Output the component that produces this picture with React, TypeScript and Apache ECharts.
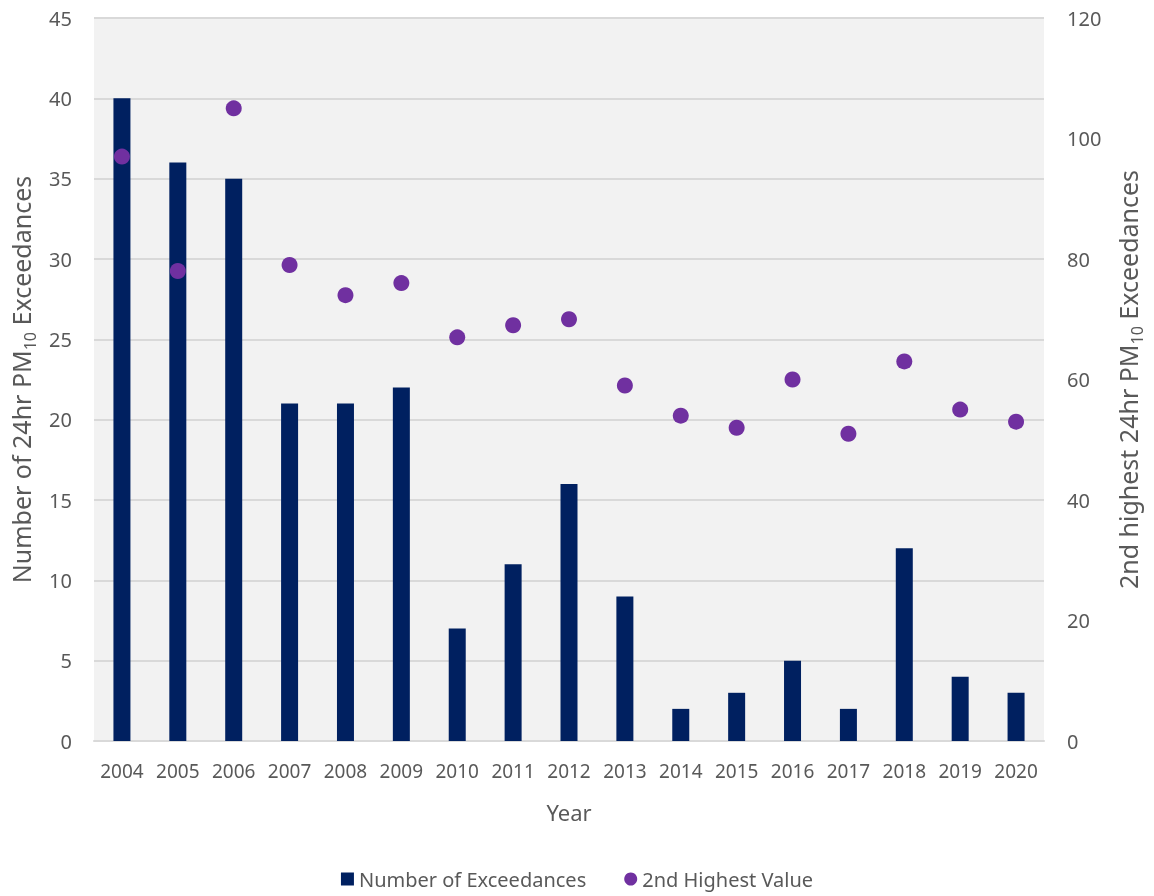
import React, { useEffect, useRef } from "react";
import * as echarts from "echarts";

const years = ["2004","2005","2006","2007","2008","2009","2010","2011","2012","2013","2014","2015","2016","2017","2018","2019","2020"];
const exceedances = [40, 36, 35, 21, 21, 22, 7, 11, 16, 9, 2, 3, 5, 2, 12, 4, 3];
const secondHighest = [97, 78, 105, 79, 74, 76, 67, 69, 70, 59, 54, 52, 60, 51, 63, 55, 53];

const FONT = "'Noto Sans', 'Open Sans', sans-serif";
const TXT = "#595959";

export default function App() {
  const ref = useRef<HTMLDivElement>(null);
  useEffect(() => {
    const chart = echarts.init(ref.current!, null, { renderer: "svg" });
    const nameRich = {
      a: { fontSize: 25, color: TXT, fontFamily: FONT },
      s: { fontSize: 16, color: TXT, fontFamily: FONT, padding: [18, 0, 0, 0] },
    };
    chart.setOption({
      animation: false,
      textStyle: { fontFamily: FONT },
      grid: {
        left: 94, right: 110, top: 18, bottom: 155,
        outerBoundsMode: "none",
        containLabel: false,
        show: true, backgroundColor: "#f2f2f2", borderWidth: 0,
      },
      legend: {
        bottom: 2, left: "center",
        itemWidth: 13, itemHeight: 13, itemGap: 38,
        textStyle: { fontSize: 20, color: TXT, fontFamily: FONT },
        data: [
          { name: "Number of Exceedances", icon: "rect" },
          { name: "2nd Highest Value", icon: "circle" },
        ],
      },
      xAxis: {
        type: "category",
        data: years,
        name: "Year",
        nameLocation: "middle",
        nameGap: 60,
        nameTextStyle: { fontSize: 22, color: TXT, fontFamily: FONT },
        axisLine: { lineStyle: { color: "#d9d9d9", width: 2 } },
        axisTick: { show: false },
        axisLabel: { interval: 0, hideOverlap: false, fontSize: 19, color: TXT, margin: 20, fontFamily: FONT },
      },
      yAxis: [
        {
          type: "value", min: 0, max: 45, interval: 5,
          name: "{a|Number of 24hr PM}{s|10}{a| Exceedances}",
          nameLocation: "middle", nameGap: 55, nameRotate: 90,
          nameTextStyle: { rich: nameRich },
          axisLine: { show: false }, axisTick: { show: false },
          splitLine: { lineStyle: { color: "#d9d9d9", width: 2 } },
          axisLabel: { fontSize: 20, color: TXT, margin: 22, fontFamily: FONT },
        },
        {
          type: "value", min: 0, max: 120, interval: 20,
          name: "{a|2nd highest 24hr PM}{s|10}{a| Exceedances}",
          nameLocation: "middle", nameGap: 67, nameRotate: 90,
          nameTextStyle: { rich: nameRich },
          axisLine: { show: false }, axisTick: { show: false },
          splitLine: { show: false },
          axisLabel: { fontSize: 20, color: TXT, margin: 23, fontFamily: FONT },
        },
      ],
      series: [
        {
          name: "Number of Exceedances",
          type: "bar",
          data: exceedances,
          barWidth: 17,
          itemStyle: { color: "#002060" },
          yAxisIndex: 0,
        },
        {
          name: "2nd Highest Value",
          type: "scatter",
          data: secondHighest,
          yAxisIndex: 1,
          symbol: "circle",
          symbolSize: 16,
          itemStyle: { color: "#7030a0", opacity: 1 },
        },
      ],
    });
    return () => chart.dispose();
  }, []);
  return <div ref={ref} style={{ position: "fixed", left: 0, top: 0, width: 1154, height: 896 }} />;
}
